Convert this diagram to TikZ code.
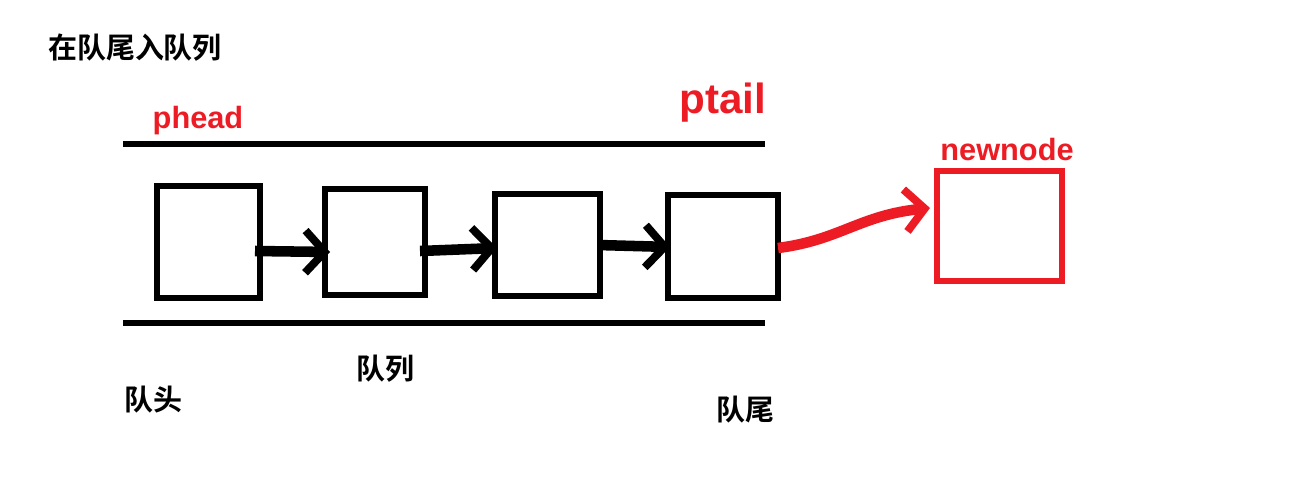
\documentclass[tikz,border=0pt]{standalone}
\usepackage{fontspec}
\setmainfont{Liberation Sans}
\newfontfamily\cjk{Noto Sans CJK SC}[BoldFont={Noto Sans CJK SC Bold}]
\usetikzlibrary{arrows.meta}
\definecolor{myred}{RGB}{237,28,36}
\begin{document}
\begin{tikzpicture}[x=0.02cm,y=-0.02cm,
  link/.style={line width=6pt,-{Straight Barb[length=11pt,width=24pt,line width=4.5pt]}},
  lbl/.style={font=\cjk\bfseries\fontsize{16.5}{20}\selectfont},
  rl/.style={text=myred,font=\bfseries\fontsize{17.5}{22}\selectfont}]
\useasboundingbox (0,0) rectangle (1307,490);
\node[lbl] (title) at (135,48) {在队尾入队列};
\draw[line width=3.5pt] (123,144) coordinate (t1) -- (765,144) coordinate (t2);
\draw[line width=3.5pt] (123,323) coordinate (b1) -- (765,323) coordinate (b2);
\draw[line width=3pt] (157,186) rectangle (260,298);
\draw[line width=3pt] (325,189) rectangle (425,295);
\draw[line width=3pt] (495,194) rectangle (600,296);
\draw[line width=3pt] (668,195) rectangle (778,298);
\draw[line width=3pt,myred] (937,171) rectangle (1062,281);
\coordinate (a1) at (255,251); \coordinate (a2) at (330,252);
\coordinate (c1) at (420,251); \coordinate (c2) at (497,248);
\coordinate (d1) at (598,245); \coordinate (d2) at (670,247);
\draw[link] (a1) -- (a2);
\draw[link] (c1) -- (c2);
\draw[link] (d1) -- (d2);
\coordinate (r1) at (778,248); \coordinate (r2) at (930,208);
\draw[link,myred] (r1) .. controls (840,240) and (860,215) .. (r2);
\node[rl] (phead) at (198,121) {phead};
\node[rl,font=\bfseries\fontsize{24}{30}\selectfont] (ptail) at (723,103) {ptail};
\node[rl] (newnode) at (1007,150) {newnode};
\node[lbl] (q) at (385,369) {队列};
\node[lbl] (h) at (153,400) {队头};
\node[lbl] (w) at (745,410) {队尾};
\end{tikzpicture}
\end{document}
